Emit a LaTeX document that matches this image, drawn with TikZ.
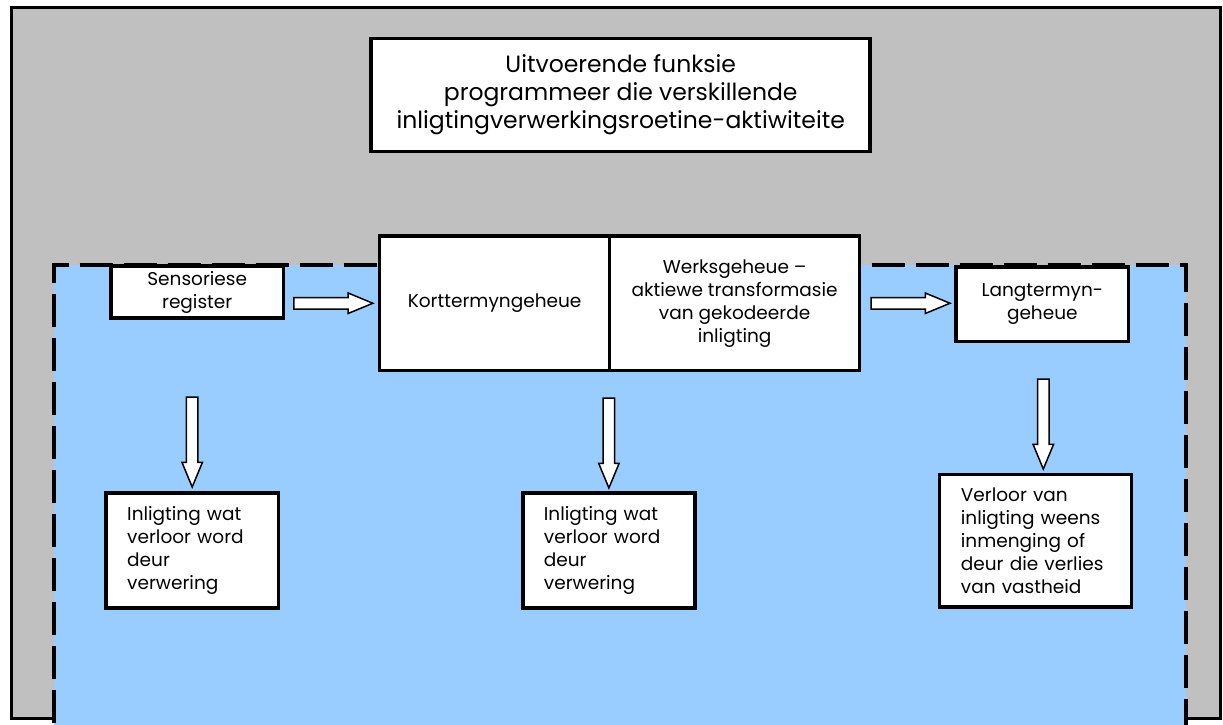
\documentclass[tikz,border=0pt]{standalone}
\usepackage{fontspec}
\setmainfont{Poppins}
\usetikzlibrary{shapes.arrows}

\definecolor{framegray}{RGB}{192,192,192}
\definecolor{memblue}{RGB}{153,204,255}

\tikzset{
  membox/.style={draw, fill=white, line width=3.5pt, inner sep=0pt, align=center,
    font=\fontsize{18.5}{23}\selectfont},
  lossbox/.style={membox, align=left},
  fatarrow/.style={single arrow, draw, fill=white, line width=1.5pt, inner xsep=0pt, inner ysep=5pt,
    single arrow head extend=4.5pt, single arrow tip angle=45,
    single arrow head indent=0pt, sloped, pos=0, anchor=tail}
}

\begin{document}
\begin{tikzpicture}[x=1pt,y=-1pt]
  \useasboundingbox (0,0) rectangle (1223,725);

  % Executive function frame
  \draw[line width=3pt, fill=framegray] (11,7.5) rectangle (1220.5,718);

  % Memory system (dashed area, open at the bottom)
  \fill[memblue] (53.5,265) rectangle (1186,740);
  \draw[line width=4pt, dash pattern=on 33pt off 11pt, dash phase=27pt]
    (53.5,740) -- (53.5,265) -- (1186,265) -- (1186,740);

  % Executive box
  \node[membox, minimum width=499pt, minimum height=113pt, font=\fontsize{23.5}{28}\selectfont]
    (exec) at (620.7,94.8)
    {Uitvoerende funksie\\programmeer die verskillende\\inligtingverwerkingsroetine-aktiwiteite};

  % Memory stores
  \node[membox, minimum width=172.3pt, minimum height=52pt] (sens) at (197.2,292) {Sensoriese\\register};
  \node[membox, minimum width=230.2pt, minimum height=134.5pt] (kort) at (494.6,303.25) {Korttermyngeheue};
  \node[membox, minimum width=249.8pt, minimum height=134.5pt] (werk) at (734.6,303.25)
    {Werksgeheue –\\aktiewe transformasie\\van gekodeerde\\inligting};
  \node[membox, minimum width=172.7pt, minimum height=74.7pt] (lang) at (1042.3,304.3) {Langtermyn-\\geheue};

  % Loss of information
  \node[lossbox, text width=130pt, minimum width=172.3pt, minimum height=114.8pt] (loss1) at (192.2,550.4)
    {Inligting wat\\verloor word\\deur\\verwering};
  \node[lossbox, text width=130pt, minimum width=172.2pt, minimum height=114.8pt] (loss2) at (608.9,550.4)
    {Inligting wat\\verloor word\\deur\\verwering};
  \node[lossbox, text width=149pt, minimum width=191.8pt, minimum height=132.7pt] (loss3) at (1035.4,540.8)
    {Verloor van\\inligting weens\\inmenging of\\deur die verlies\\van vastheid};

  % Flow arrows
  \coordinate (a1) at ([xshift=8pt]sens.east);
  \coordinate (a2) at ([xshift=9pt]werk.east);
  \path (a1 |- kort.west) -- (kort.west) node[fatarrow, minimum height=79pt] {};
  \path (a2) -- (lang.west |- a2) node[fatarrow, minimum height=79pt] {};

  \coordinate (d1) at ([yshift=95pt]loss1.north);
  \coordinate (d2) at ([yshift=94pt]loss2.north);
  \coordinate (d3) at (1043.3,378.3);
  \path (d1) -- (loss1.north) node[fatarrow, minimum height=90pt] {};
  \path (d2) -- (loss2.north) node[fatarrow, minimum height=90pt] {};
  \path (d3) -- (d3 |- loss3.north) node[fatarrow, minimum height=90pt] {};
\end{tikzpicture}
\end{document}
